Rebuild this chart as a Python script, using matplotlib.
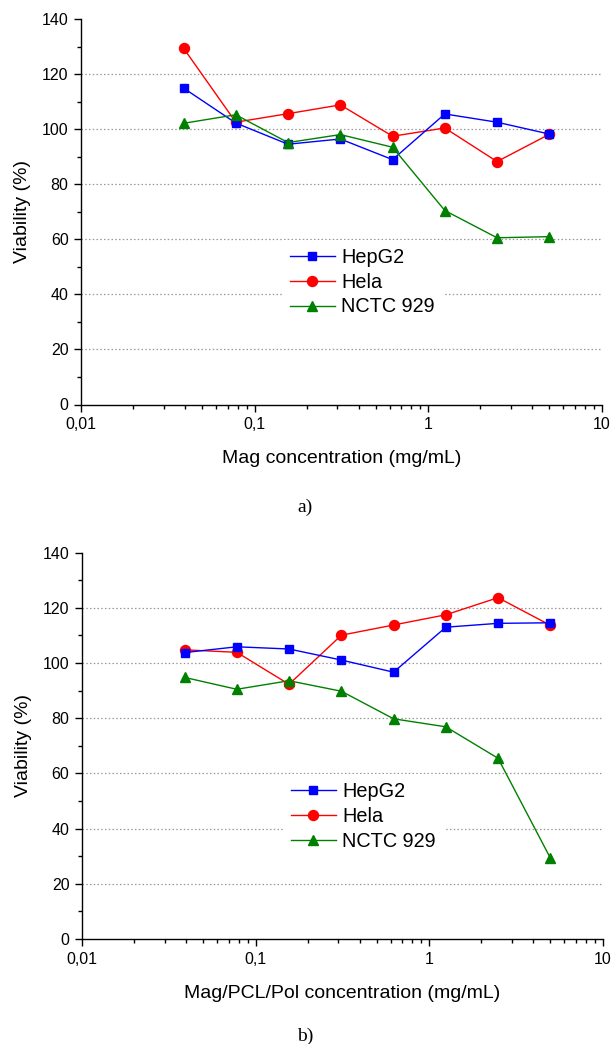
import matplotlib
matplotlib.use("Agg")
import matplotlib.pyplot as plt
from matplotlib.ticker import FixedLocator, FuncFormatter, LogLocator, NullFormatter, MultipleLocator

plt.rcParams['font.family'] = ['Liberation Sans', 'DejaVu Sans']

# Two-fold dilution series (mg/mL)
concentration = [0.039, 0.078, 0.156, 0.3125, 0.625, 1.25, 2.5, 5.0]

# a) Mag
mag_hepg2 = [115.0, 102.3, 94.6, 96.5, 89.0, 105.6, 102.6, 98.3]
mag_hela = [129.5, 102.6, 105.7, 108.9, 97.5, 100.5, 88.3, 98.2]
mag_nctc = [102.2, 105.3, 95.2, 98.1, 93.5, 70.5, 60.6, 61.0]

# b) Mag/PCL/Pol
pcl_hepg2 = [103.8, 105.9, 105.1, 101.1, 96.7, 113.0, 114.4, 114.6]
pcl_hela = [104.8, 103.9, 92.3, 110.1, 113.8, 117.5, 123.7, 113.7]
pcl_nctc = [94.8, 90.5, 93.6, 89.8, 79.8, 76.9, 65.5, 29.4]

series_names = ["HepG2", "Hela", "NCTC 929"]
grid_levels = [20, 40, 60, 80, 100, 120]
x_ticks = [0.01, 0.1, 1, 10]
x_tick_labels = ["0,01", "0,1", "1", "10"]

W, H = 611, 1044
fig = plt.figure(figsize=(W / 100, H / 100), dpi=100)


def panel(rect, hep, hela, nctc, xlabel, tag, tag_y):
    l, t, r, b = rect
    ax = fig.add_axes([l / W, 1 - b / H, (r - l) / W, (b - t) / H])
    for lvl in grid_levels:
        ax.axhline(lvl, color='#999999', lw=0.9, ls=(0, (1.2, 1.8)), zorder=0)
    ax.plot(concentration, hep, color='#0000FF', marker='s', ms=6.3, lw=1,
            label=series_names[0], zorder=3)
    ax.plot(concentration, hela, color='#FF0000', marker='o', ms=7.2, lw=1,
            label=series_names[1], zorder=2)
    ax.plot(concentration, nctc, color='#008000', marker='^', ms=7.8, lw=1,
            label=series_names[2], zorder=4)
    ax.set_xscale('log')
    ax.set_xlim(0.01, 10)
    ax.set_ylim(0, 140)
    ax.xaxis.set_major_locator(FixedLocator(x_ticks))
    ax.xaxis.set_major_formatter(FuncFormatter(
        lambda v, p: x_tick_labels[x_ticks.index(v)] if v in x_ticks else ""))
    ax.xaxis.set_minor_locator(LogLocator(base=10, subs=range(2, 10)))
    ax.xaxis.set_minor_formatter(NullFormatter())
    ax.yaxis.set_major_locator(MultipleLocator(20))
    ax.yaxis.set_minor_locator(MultipleLocator(10))
    for s in ('top', 'right'):
        ax.spines[s].set_visible(False)
    for s in ('left', 'bottom'):
        ax.spines[s].set_linewidth(1.0)
    ax.tick_params(which='major', direction='out', length=5, width=1,
                   labelsize=11.5, pad=4)
    ax.tick_params(which='minor', direction='out', length=2.8, width=1)
    ax.set_ylabel("Viability (%)", fontsize=14, labelpad=8)
    ax.set_xlabel(xlabel, fontsize=14, labelpad=13)
    leg = ax.legend(loc='upper left', bbox_to_anchor=(0.386, 0.428),
                    borderaxespad=0, fontsize=14.3,
                    frameon=True, facecolor='white', edgecolor='none',
                    framealpha=1, handlelength=2.25, handletextpad=0.35,
                    labelspacing=0.3, borderpad=0.4, fancybox=False)
    leg.set_zorder(1)
    fig.text(0.5, 1 - tag_y / H, tag, ha='center', va='center',
             fontsize=14, family='Liberation Serif')
    return ax


panel((81, 19.3, 601.5, 404.5), mag_hepg2, mag_hela, mag_nctc,
      "Mag concentration (mg/mL)", "a)", 507)
panel((82, 552.7, 602.5, 939), pcl_hepg2, pcl_hela, pcl_nctc,
      "Mag/PCL/Pol concentration (mg/mL)", "b)", 1036)

fig.savefig("out.png", dpi=100)
